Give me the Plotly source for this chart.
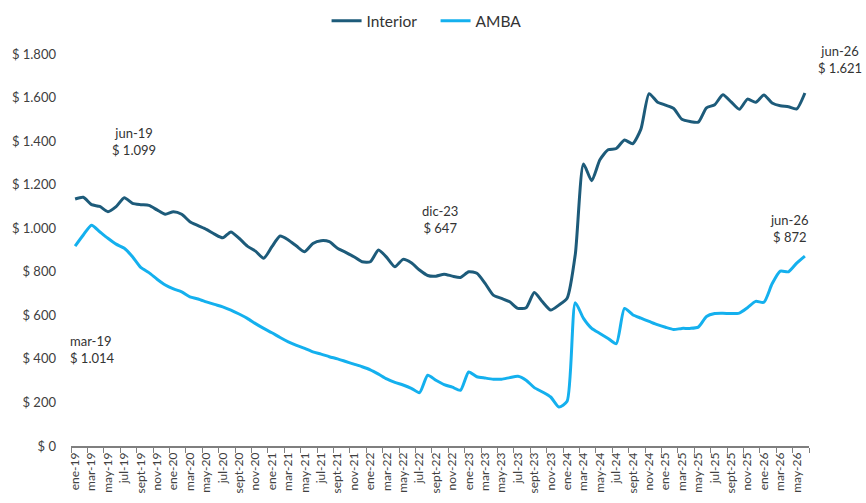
import plotly.graph_objects as go

month_names = ["ene", "feb", "mar", "abr", "may", "jun", "jul", "ago", "sept", "oct", "nov", "dic"]
months = [f"{m}-{y:02d}" for y in range(19, 27) for m in month_names][:90]

interior = [1134, 1142, 1108, 1100, 1076, 1099, 1140, 1114, 1108, 1105, 1084, 1064,
            1076, 1064, 1030, 1012, 995, 973, 956, 983, 954, 918, 895, 862,
            915, 964, 946, 918, 892, 930, 943, 938, 908, 889, 869, 846,
            846, 900, 866, 823, 857, 841, 808, 783, 780, 789, 780, 774,
            800, 793, 747, 693, 678, 662, 632, 635, 705, 662, 624, 647,
            678, 880, 1295, 1218, 1314, 1360, 1366, 1405, 1388, 1455, 1618, 1580,
            1565, 1550, 1500, 1490, 1487, 1553, 1567, 1613, 1580, 1546, 1593, 1578,
            1612, 1575, 1562, 1558, 1548, 1621]

amba = [918, 969, 1014, 984, 954, 927, 908, 869, 820, 796, 766, 739,
        721, 708, 685, 675, 662, 650, 639, 624, 606, 586, 562, 540,
        520, 498, 478, 462, 448, 432, 422, 410, 400, 388, 376, 364,
        350, 330, 308, 292, 280, 265, 245, 325, 302, 282, 270, 256,
        340, 318, 312, 307, 307, 314, 320, 302, 268, 248, 225, 179,
        205, 658, 586, 540, 517, 494, 470, 632, 603, 587, 572, 557,
        545, 535, 540, 540, 546, 595, 608, 609, 608, 610, 635, 664,
        660, 745, 803, 800, 840, 872]

y_ticks = [0, 200, 400, 600, 800, 1000, 1200, 1400, 1600, 1800]
y_tick_text = ["$ 0", "$ 200", "$ 400", "$ 600", "$ 800", "$ 1.000", "$ 1.200", "$ 1.400", "$ 1.600", "$ 1.800"]

callout_texts = ["jun-19<br>$ 1.099", "mar-19<br>$ 1.014", "dic-23<br>$ 647",
                 "jun-26<br>$ 872", "jun-26<br>$ 1.621"]

x_idx = list(range(len(months)))
font = "Lato, 'Open Sans', sans-serif"

fig = go.Figure()
fig.add_trace(go.Scatter(x=x_idx, y=interior, mode="lines", name="Interior",
                         line=dict(color="#1D5B7A", width=3, shape="spline", smoothing=0.6)))
fig.add_trace(go.Scatter(x=x_idx, y=amba, mode="lines", name="AMBA",
                         line=dict(color="#14B0EE", width=3, shape="spline", smoothing=0.6)))

# label placement in paper coordinates (x, y, xanchor, align)
placements = [(0.0854, 0.776, "center", "center"),
              (-0.0045, 0.247, "left", "left"),
              (0.500, 0.577, "center", "center"),
              (0.974, 0.556, "center", "center"),
              (1.042, 0.987, "center", "center")]
for txt, (px, py, xa, al) in zip(callout_texts, placements):
    fig.add_annotation(x=px, y=py, xref="paper", yref="paper", text=txt, showarrow=False,
                       xanchor=xa, yanchor="middle", align=al,
                       font=dict(family=font, size=13, color="#333333"))

fig.update_layout(
    width=866, height=503,
    margin=dict(l=71, r=57, t=54, b=57, autoexpand=False),
    paper_bgcolor="white", plot_bgcolor="white",
    font=dict(family=font, size=13, color="#404040"),
    legend=dict(orientation="h", x=0.494, xanchor="center", y=1.084, yanchor="middle",
                font=dict(size=15.5, color="#333333"), itemwidth=30, tracegroupgap=0,
                entrywidth=64, entrywidthmode="pixels"),
    showlegend=True,
)
fig.update_xaxes(
    range=[-0.5, 89.5], showgrid=False, zeroline=False, automargin=False,
    tickmode="array", tickvals=x_idx[::2], ticktext=months[::2], tickangle=-90,
    ticks="", showline=True, linecolor="#7F7F7F", linewidth=1.5,
    tickfont=dict(size=12, color="#404040"),
    minor=dict(tickmode="linear", tick0=-0.5, dtick=2, ticks="outside", ticklen=5,
               tickcolor="#7F7F7F", tickwidth=1, showgrid=False),
)
fig.update_yaxes(
    range=[0, 1800], showgrid=False, zeroline=False, showline=False, automargin=False,
    tickmode="array", tickvals=y_ticks, ticktext=y_tick_text, ticklabelstandoff=14,
    tickfont=dict(size=13, color="#404040"), ticks="",
)

fig.write_html("out.html", post_script="document.body.style.margin='0';",
               config={"displayModeBar": False})
